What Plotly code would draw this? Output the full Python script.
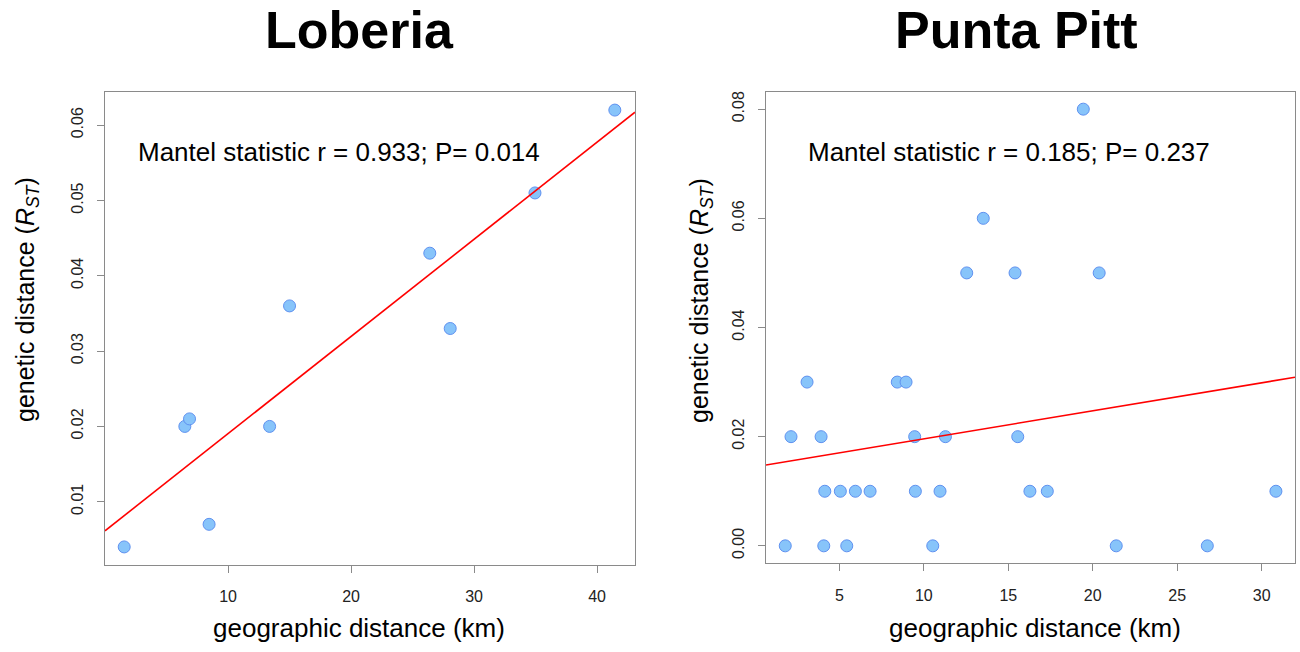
import numpy as np
import plotly.graph_objects as go

W, H = 1300, 652

# ---------------- data ----------------
lob_geo_km = [1.56, 6.49, 6.87, 8.46, 13.38, 15.0, 26.4, 28.06, 34.95, 41.44]
lob_rst = [0.004, 0.020, 0.021, 0.007, 0.020, 0.036, 0.043, 0.033, 0.051, 0.062]

pp_geo_km = [1.8, 2.14, 3.09, 3.92, 4.14, 4.08, 5.06, 5.44, 5.95, 6.82, 8.43, 8.95,
             9.46, 9.5, 10.53, 10.96, 11.28, 12.54, 13.52, 15.4, 15.56, 16.28, 17.31,
             19.44, 20.38, 21.39, 26.78, 30.84]
pp_rst = [0.00, 0.02, 0.03, 0.02, 0.01, 0.00, 0.01, 0.00, 0.01, 0.01, 0.03, 0.03,
          0.02, 0.01, 0.00, 0.01, 0.02, 0.05, 0.06, 0.05, 0.02, 0.01, 0.01,
          0.08, 0.05, 0.00, 0.00, 0.01]

titles = ["Loberia", "Punta Pitt"]
mantel_text = ["Mantel statistic r = 0.933; P= 0.014",
               "Mantel statistic r = 0.185; P= 0.237"]
lob_xticks = [10, 20, 30, 40]
lob_yticks = [0.01, 0.02, 0.03, 0.04, 0.05, 0.06]
pp_xticks = [5, 10, 15, 20, 25, 30]
pp_yticks = [0.00, 0.02, 0.04, 0.06, 0.08]

# ---------------- layout helpers ----------------
def px_x(p):
    return p / W

def px_y(p):
    return 1 - p / H

FONT = "Arial, Liberation Sans, Helvetica, sans-serif"
fill = "rgb(135,196,250)"
edge = "rgb(95,145,240)"
axcol = "#8a8a8a"

lob_xrange = [0.0, 43.08]
lob_yrange = [0.0016, 0.0644]
pp_xrange = [0.66, 31.97]
pp_yrange = [-0.0032, 0.0832]

fig = go.Figure()

def add_panel(xs, ys, xaxis, yaxis, xr):
    fig.add_trace(go.Scatter(x=xs, y=ys, mode="markers", xaxis=xaxis, yaxis=yaxis,
                             marker=dict(size=12, color=fill, line=dict(color=edge, width=1)),
                             showlegend=False, cliponaxis=False))
    slope, intercept = np.polyfit(xs, ys, 1)
    lx = np.array(xr)
    fig.add_trace(go.Scatter(x=lx, y=intercept + slope * lx, mode="lines",
                             xaxis=xaxis, yaxis=yaxis,
                             line=dict(color="#ff0000", width=1.6), showlegend=False))

add_panel(lob_geo_km, lob_rst, "x", "y", lob_xrange)
add_panel(pp_geo_km, pp_rst, "x2", "y2", pp_xrange)

axis_common = dict(showgrid=False, zeroline=False, showline=True, mirror=True,
                   linecolor=axcol, linewidth=1, ticks="outside", ticklen=7,
                   tickcolor=axcol, tickfont=dict(family=FONT, size=16, color="#222"))

fig.update_layout(
    width=W, height=H, autosize=False,
    margin=dict(l=0, r=0, t=0, b=0),
    plot_bgcolor="white", paper_bgcolor="white",
    xaxis=dict(domain=[px_x(105), px_x(635)], range=lob_xrange, tickvals=lob_xticks,
               anchor="y", ticklabelstandoff=10, **axis_common),
    yaxis=dict(domain=[px_y(565), px_y(92)], range=lob_yrange, tickvals=lob_yticks,
               tickformat=".2f", tickangle=-90, anchor="x", ticklabelstandoff=8,
               **axis_common),
    xaxis2=dict(domain=[px_x(766), px_x(1295)], range=pp_xrange, tickvals=pp_xticks,
                anchor="y2", ticklabelstandoff=10, **axis_common),
    yaxis2=dict(domain=[px_y(563.3), px_y(91.7)], range=pp_yrange, tickvals=pp_yticks,
                tickformat=".2f", tickangle=-90, anchor="x2", ticklabelstandoff=8,
                **axis_common),
)

ann = []
# titles
for t, cx in zip(titles, [359, 1017]):
    ann.append(dict(text="<b>%s</b>" % t, x=px_x(cx), y=px_y(30), xref="paper", yref="paper",
                    xanchor="center", yanchor="middle", showarrow=False,
                    font=dict(family=FONT, size=52, color="black")))
# mantel statistic text
for t, lx in zip(mantel_text, [136, 806]):
    ann.append(dict(text=t, x=px_x(lx), y=px_y(152), xref="paper", yref="paper",
                    xanchor="left", yanchor="middle", showarrow=False,
                    font=dict(family=FONT, size=26, color="black")))
# x axis titles
for cx in [359, 1035]:
    ann.append(dict(text="geographic distance (km)", x=px_x(cx), y=px_y(628),
                    xref="paper", yref="paper", xanchor="center", yanchor="middle",
                    showarrow=False, font=dict(family=FONT, size=26, color="black")))
# y axis titles
for cx in [27, 701]:
    ann.append(dict(text="genetic distance (<i>R</i><sub><i>ST</i></sub>)",
                    x=px_x(cx), y=px_y(300), xref="paper", yref="paper",
                    xanchor="center", yanchor="middle", textangle=-90,
                    showarrow=False, font=dict(family=FONT, size=25, color="black")))
fig.update_layout(annotations=ann)

fig.write_html("out.html")
